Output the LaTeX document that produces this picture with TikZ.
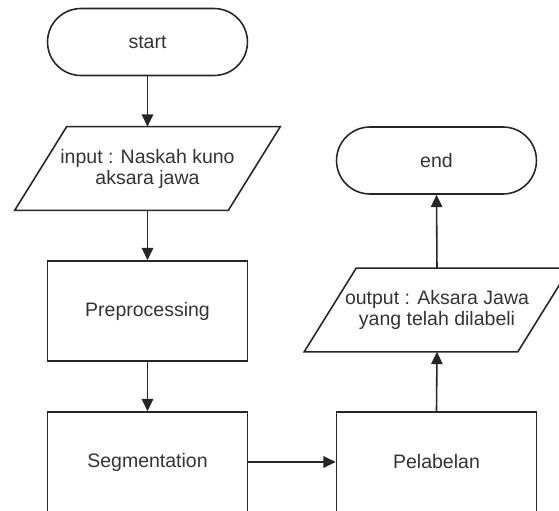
\documentclass[tikz,border=0pt]{standalone}
\usepackage{fontspec}
\setmainfont{Liberation Sans}
\usetikzlibrary{arrows.meta}
\tikzstyle{term} = [rectangle,
                      line width=0.9pt,
                      rounded corners=0.67cm,
                      text=black!80,
                      font=\fontsize{11.1}{12}\selectfont,
                      align=center,
                      minimum width=4cm,
                      minimum height=1.34cm,
                      draw=black!85,
                      fill=white]
\tikzstyle{io} = [rectangle,
                      text=black!80,
                      font=\fontsize{11.1}{12}\selectfont,
                      align=center,
                      minimum width=4.26cm,
                      minimum height=1.66cm,
                      append after command={
                        \pgfextra{
                          \draw [draw=black!85, line width=0.9pt]
                            ([xshift=0.52cm]\tikzlastnode.north west) -- ([xshift=0.52cm]\tikzlastnode.north east)
                            -- ([xshift=-0.52cm]\tikzlastnode.south east) -- ([xshift=-0.52cm]\tikzlastnode.south west)
                            -- cycle;
                        }
                      }]
\tikzstyle{proc} = [rectangle,
                      line width=0.9pt,
                      text=black!80,
                      font=\fontsize{11.1}{12}\selectfont,
                      align=center,
                      minimum width=4cm,
                      minimum height=2cm,
                      draw=black!85,
                      fill=white]
\tikzstyle{ar} = [line width=0.9pt,
                      draw=black!85,
                      -{Triangle[length=7pt,width=6.5pt]}]

\begin{document}
\begin{tikzpicture}[x=0.02cm,y=-0.02cm]
     \clip (0,0) rectangle (559,511);
     % left column
     \node [term] (start) at (147.5,42) {start};
     \node [io] (in) at (147.5,168.5) {input : Naskah kuno\\aksara jawa};
     \node [proc] (pre) at (147.5,311) {Preprocessing};
     \node [proc] (seg) at (147.5,462) {Segmentation};
     % right column
     \node [proc] (lab) at (436.5,462) {Pelabelan};
     \node [io] (out) at (437,310) {output : Aksara Jawa\\yang telah dilabeli};
     \node [term] (end) at (436.5,160.5) {end};
     % connectors
     \draw [ar] (start.south) -- (in.north);
     \draw [ar] (in.south) -- (pre.north);
     \draw [ar] (pre.south) -- (seg.north);
     \draw [ar] (seg.east) -- (lab.west);
     \draw [ar] (lab.north) -- (out.south);
     \draw [ar] (out.north) -- (end.south);
\end{tikzpicture}
\end{document}
